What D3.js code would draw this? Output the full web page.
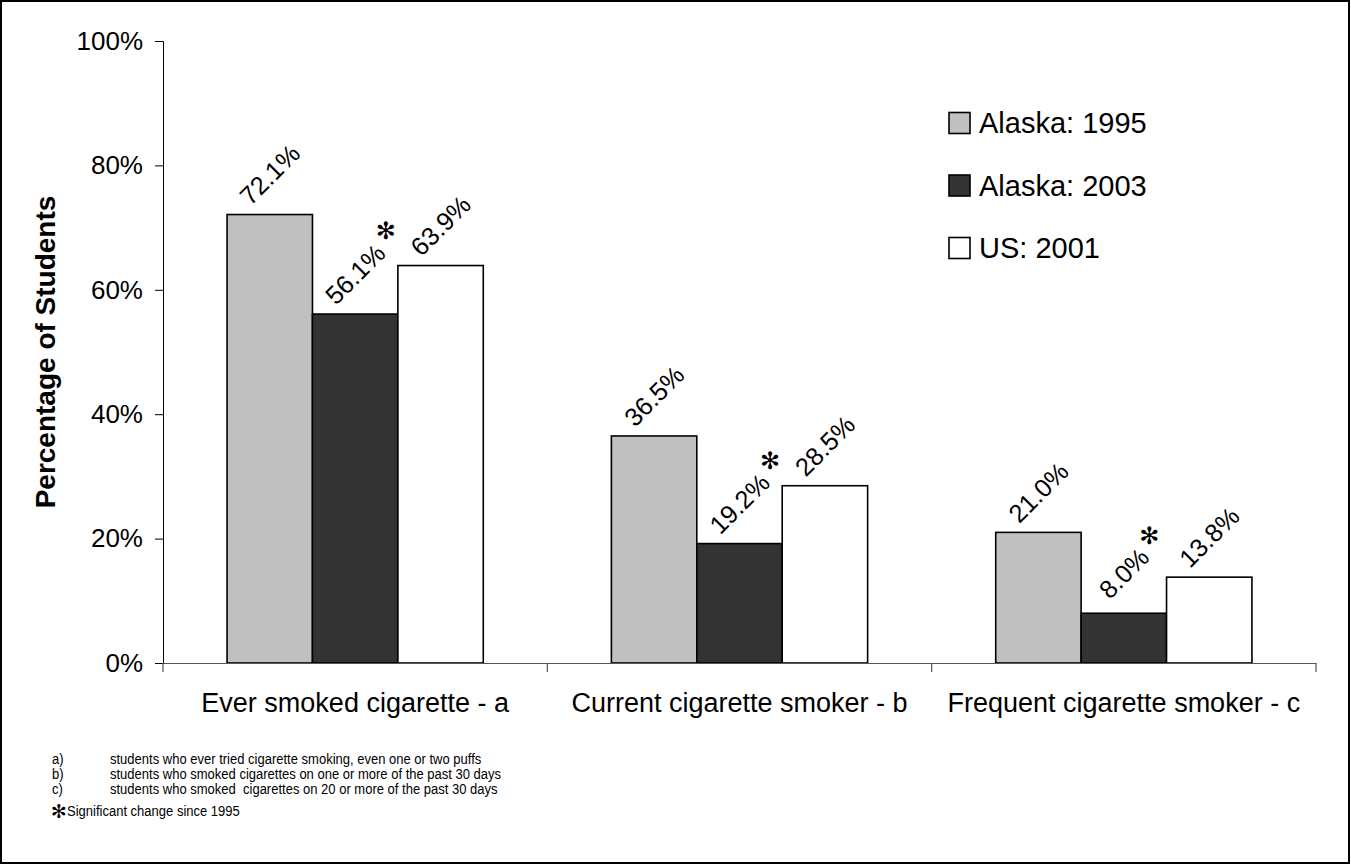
<!DOCTYPE html>
<html>
<head>
<meta charset="utf-8">
<script src="https://cdn.jsdelivr.net/npm/d3@7"></script>
<style>
  html, body { margin: 0; padding: 0; background: #fff; }
  svg { display: block; }
  text { font-family: "Liberation Sans", Arial, sans-serif; fill: #000; }
</style>
</head>
<body>
<svg id="chart" width="1351" height="865"></svg>
<script>
// ---- data ----
const categories = ["Ever smoked cigarette - a", "Current cigarette smoker - b", "Frequent cigarette smoker - c"];
const seriesNames = ["Alaska: 1995", "Alaska: 2003", "US: 2001"];
const alaska1995 = [72.1, 36.5, 21.0];
const alaska2003 = [56.1, 19.2, 8.0];
const us2001 = [63.9, 28.5, 13.8];
const significant2003 = [true, true, true];
const yTicks = [0, 20, 40, 60, 80, 100];
const footnoteKeys = ["a)", "b)", "c)"];
const footnoteTexts = [
  "students who ever tried cigarette smoking, even one or two puffs",
  "students who smoked cigarettes on one or more of the past 30 days",
  "students who smoked  cigarettes on 20 or more of the past 30 days"
];
const sigNote = "Significant change since 1995";
const colors = ["#c0c0c0", "#333333", "#ffffff"];

const seriesValues = [alaska1995, alaska2003, us2001];

(function () {
const svg = d3.select("#chart");
const W = 1351, H = 865;

// outer frame
svg.append("rect").attr("x", 1).attr("y", 1).attr("width", W - 3).attr("height", H - 3)
  .attr("fill", "#fff").attr("stroke", "#000").attr("stroke-width", 2);

const mLeft = 163, mRight = 1316, mTop = 41, mBottom = 663;

const x0 = d3.scaleBand().domain(categories).range([mLeft, mRight]).padding(0);
const bw = x0.bandwidth();
const x1 = d3.scaleBand().domain(seriesNames).range([bw / 6, bw * 5 / 6]).padding(0);
const y = d3.scaleLinear().domain([0, 100]).range([mBottom, mTop]);

// Y axis
const yAxis = d3.axisLeft(y).tickValues(yTicks).tickFormat(d => d + "%").tickSize(8).tickPadding(12);
const gy = svg.append("g").attr("transform", `translate(${mLeft},0)`).call(yAxis);
gy.select(".domain").attr("stroke", "#000").attr("stroke-width", 1);
gy.selectAll(".tick line").attr("stroke", "#000");
gy.selectAll("text").style("font-family", '"Liberation Sans", Arial, sans-serif').style("font-size", "26px").attr("fill", "#000");

// bars
const groups = svg.append("g").selectAll("g").data(categories).join("g")
  .attr("transform", d => `translate(${x0(d)},0)`);

groups.each(function (cat, ci) {
  const g = d3.select(this);
  seriesNames.forEach((s, si) => {
    const v = seriesValues[si][ci];
    g.append("rect")
      .attr("x", x1(s)).attr("width", x1.bandwidth())
      .attr("y", y(v)).attr("height", y(0) - y(v))
      .attr("fill", colors[si]).attr("stroke", "#000").attr("stroke-width", 1.6);
  });
});

// X axis (line + ticks at category boundaries)
const xAxis = d3.axisBottom(x0).tickSize(0).tickFormat("");
const gx = svg.append("g").attr("transform", `translate(0,${mBottom})`).call(xAxis);
gx.select(".domain").attr("stroke", "#555").attr("stroke-width", 1.2);
const boundaries = categories.map(c => x0(c)).concat([x0(categories[categories.length - 1]) + bw]);
gx.selectAll(".bnd").data(boundaries).join("line").attr("class", "bnd")
  .attr("x1", d => d).attr("x2", d => d).attr("y1", 0).attr("y2", 9)
  .attr("stroke", "#555").attr("stroke-width", 1.2);

// category labels
svg.append("g").selectAll("text").data(categories).join("text")
  .attr("x", d => x0(d) + bw / 2).attr("y", 712)
  .attr("text-anchor", "middle").style("font-size", "27px").text(d => d);

// value labels (rotated)
groups.each(function (cat, ci) {
  const g = d3.select(this);
  seriesNames.forEach((s, si) => {
    const v = seriesValues[si][ci];
    const cx = x1(s) + x1.bandwidth() / 2;
    const cy = y(v) - 40;
    const t = g.append("text")
      .attr("transform", `translate(${cx},${cy}) rotate(-45)`)
      .attr("text-anchor", "middle").attr("dominant-baseline", "central")
      .style("font-size", "25.5px").text(v.toFixed(1) + "%");
    if (si === 1 && significant2003[ci]) {
      const len = t.node().getComputedTextLength();
      const ex = cx + (len / 2) * Math.SQRT1_2;
      const ey = cy - (len / 2) * Math.SQRT1_2;
      g.append("text").attr("x", ex + 5).attr("y", ey - 9)
        .attr("text-anchor", "middle")
        .style("font-family", '"DejaVu Sans", sans-serif')
        .style("font-size", "24px").text("\u273B");
    }
  });
});

// Y title
svg.append("text")
  .attr("transform", `translate(55,${(mTop + mBottom) / 2}) rotate(-90)`)
  .attr("text-anchor", "middle").style("font-size", "28px").style("font-weight", "bold")
  .text("Percentage of Students");

// legend
const legend = svg.append("g").selectAll("g").data(seriesNames).join("g")
  .attr("transform", (d, i) => `translate(949,${123 + i * 62.5})`);
legend.append("rect").attr("x", 0).attr("y", -10.5).attr("width", 21).attr("height", 21)
  .attr("fill", (d, i) => colors[i]).attr("stroke", "#000").attr("stroke-width", 1.6);
legend.append("text").attr("x", 30).attr("y", 0).attr("dy", "0.36em")
  .style("font-size", "29px").text(d => d);

// footnotes (condensed)
const notes = svg.append("g");
footnoteKeys.forEach((k, i) => {
  const yy = 764 + i * 15;
  notes.append("text").attr("transform", `translate(52,${yy}) scale(0.84,1)`)
    .style("font-size", "15.5px").text(k);
  notes.append("text").attr("transform", `translate(110,${yy}) scale(0.84,1)`)
    .style("font-size", "15.5px").style("white-space", "pre").text(footnoteTexts[i]);
});
notes.append("text").attr("x", 51).attr("y", 818)
  .style("font-family", '"DejaVu Sans", sans-serif').style("font-size", "19px").text("\u273B");
notes.append("text").attr("transform", "translate(67,816) scale(0.84,1)")
  .style("font-size", "15.5px").text(sigNote);
})();
</script>
</body>
</html>
